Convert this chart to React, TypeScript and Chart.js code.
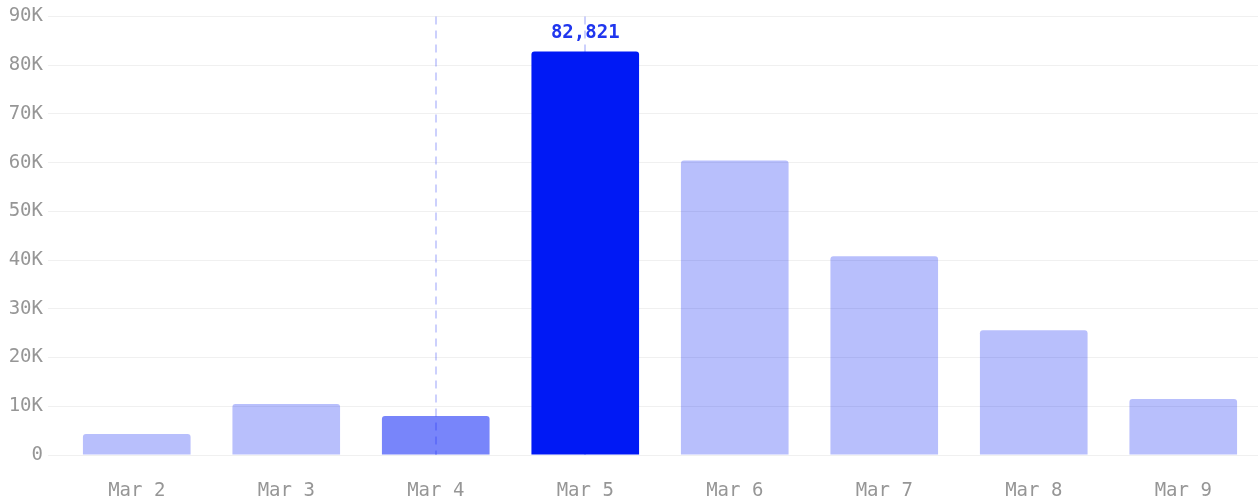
import React, { useEffect, useRef } from "react";
import { Chart, registerables } from "chart.js";

Chart.register(...registerables);

const categories = ["Mar 2", "Mar 3", "Mar 4", "Mar 5", "Mar 6", "Mar 7", "Mar 8", "Mar 9"];
const values = [4300, 10450, 8000, 82821, 60450, 40780, 25600, 11480];
const barColors = [
  "rgba(0,25,245,0.28)",
  "rgba(0,25,245,0.28)",
  "rgba(0,25,245,0.53)",
  "rgba(0,25,245,1)",
  "rgba(0,25,245,0.28)",
  "rgba(0,25,245,0.28)",
  "rgba(0,25,245,0.28)",
  "rgba(0,25,245,0.28)",
];
const dashedAt = [2, 3];
const labelIndex = 3;
const yMax = 90000;
const yStep = 10000;

const FONT = "'DejaVu Sans Mono', 'Liberation Mono', monospace";

export default function App() {
  const ref = useRef<HTMLCanvasElement>(null);
  useEffect(() => {
    document.body.style.margin = "0";
    const ctx = ref.current!.getContext("2d")!;
    const guidePlugin = {
      id: "guides",
      beforeDatasetsDraw(chart: any) {
        const { ctx, chartArea, scales } = chart;
        ctx.save();
        ctx.strokeStyle = "rgba(0,25,245,0.25)";
        ctx.lineWidth = 1.6;
        ctx.setLineDash([8, 6]);
        dashedAt.forEach((i) => {
          const x = Math.round(scales.x.getPixelForValue(i));
          ctx.beginPath();
          ctx.moveTo(x, chartArea.top);
          ctx.lineTo(x, chartArea.bottom);
          ctx.stroke();
        });
        ctx.restore();
      },
      afterDatasetsDraw(chart: any) {
        const { ctx, scales } = chart;
        const x = scales.x.getPixelForValue(labelIndex);
        const y = scales.y.getPixelForValue(values[labelIndex]);
        ctx.save();
        ctx.fillStyle = "#2036ee";
        ctx.font = `bold 19px ${FONT}`;
        ctx.textAlign = "center";
        ctx.textBaseline = "bottom";
        ctx.fillText(values[labelIndex].toLocaleString("en-US"), x, y - 9);
        ctx.restore();
      },
    };
    const chart = new Chart(ctx, {
      type: "bar",
      data: {
        labels: categories,
        datasets: [
          {
            data: values,
            backgroundColor: barColors,
            borderRadius: 3,
            borderSkipped: "bottom",
            categoryPercentage: 0.72,
            barPercentage: 1,
          },
        ],
      },
      options: {
        animation: false,
        responsive: false,
        maintainAspectRatio: false,
        layout: { padding: { top: 16, right: 0, left: 0, bottom: 0 } },
        plugins: { legend: { display: false }, tooltip: { enabled: false } },
        scales: {
          x: {
            grid: { display: false },
            border: { display: false },
            ticks: {
              color: "#969696",
              font: { family: FONT, size: 19 },
              padding: 17,
              maxRotation: 0,
            },
            afterFit(scale: any) {
              scale.height = 44;
            },
          },
          y: {
            min: 0,
            max: yMax,
            border: { display: false },
            grid: { color: "#f0f0f0", tickLength: 14, lineWidth: 1 },
            ticks: {
              stepSize: yStep,
              color: "#969696",
              font: { family: FONT, size: 19 },
              padding: 5,
              callback: (v: any) => (v === 0 ? "0" : `${Number(v) / 1000}K`),
            },
            afterFit(scale: any) {
              scale.width = 62;
            },
          },
        },
      },
      plugins: [guidePlugin],
    });
    return () => chart.destroy();
  }, []);
  return (
    <div style={{ width: 1258, height: 499 }}>
      <canvas ref={ref} width={1258} height={499} style={{ display: "block" }} />
    </div>
  );
}
